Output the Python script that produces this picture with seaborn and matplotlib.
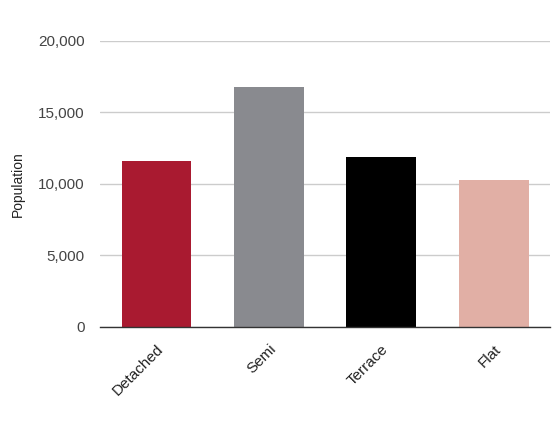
import matplotlib
matplotlib.use("Agg")
import matplotlib.pyplot as plt
import seaborn as sns
import pandas as pd
from matplotlib.ticker import FuncFormatter

# house types and population
house_types = ["Detached", "Semi", "Terrace", "Flat"]
population = [11600, 16800, 11870, 10260]
bar_colours = ["#A91A30", "#898A8F", "#000000", "#E1AFA5"]

df = pd.DataFrame({"type": house_types, "population": population})

sns.set_style("white")
plt.rcParams["font.family"] = ["Liberation Sans", "DejaVu Sans"]

fig = plt.figure(figsize=(5.6, 4.4), dpi=100)
ax = fig.add_axes([0.179, 0.257, 0.803, 0.65])

sns.barplot(data=df, x="type", y="population", hue="type",
            palette=bar_colours, width=0.62, saturation=1,
            legend=False, ax=ax, zorder=3, linewidth=0)

ax.set_xlim(-0.5, 3.5)
ax.set_ylim(0, 20000)
ax.set_yticks([0, 5000, 10000, 15000, 20000])
ax.yaxis.set_major_formatter(FuncFormatter(lambda v, p: f"{int(v):,}"))
ax.grid(axis="y", color="#cccccc", linewidth=1, zorder=0)
ax.set_axisbelow(True)

for s in ["top", "right", "left"]:
    ax.spines[s].set_visible(False)
ax.spines["bottom"].set_color("#333333")
ax.spines["bottom"].set_linewidth(1)
ax.spines["bottom"].set_zorder(4)

ax.tick_params(axis="y", length=0, labelsize=11, labelcolor="#444444", pad=11)
ax.tick_params(axis="x", length=0, labelsize=11, labelcolor="#222222", pad=11)
plt.setp(ax.get_xticklabels(), rotation=45, ha="right", rotation_mode="anchor")

ax.set_xlabel("")
ax.set_ylabel("Population", fontsize=10, color="#222222")
ax.yaxis.set_label_coords(-0.168, 0.5)

fig.savefig("out.png", dpi=100)
